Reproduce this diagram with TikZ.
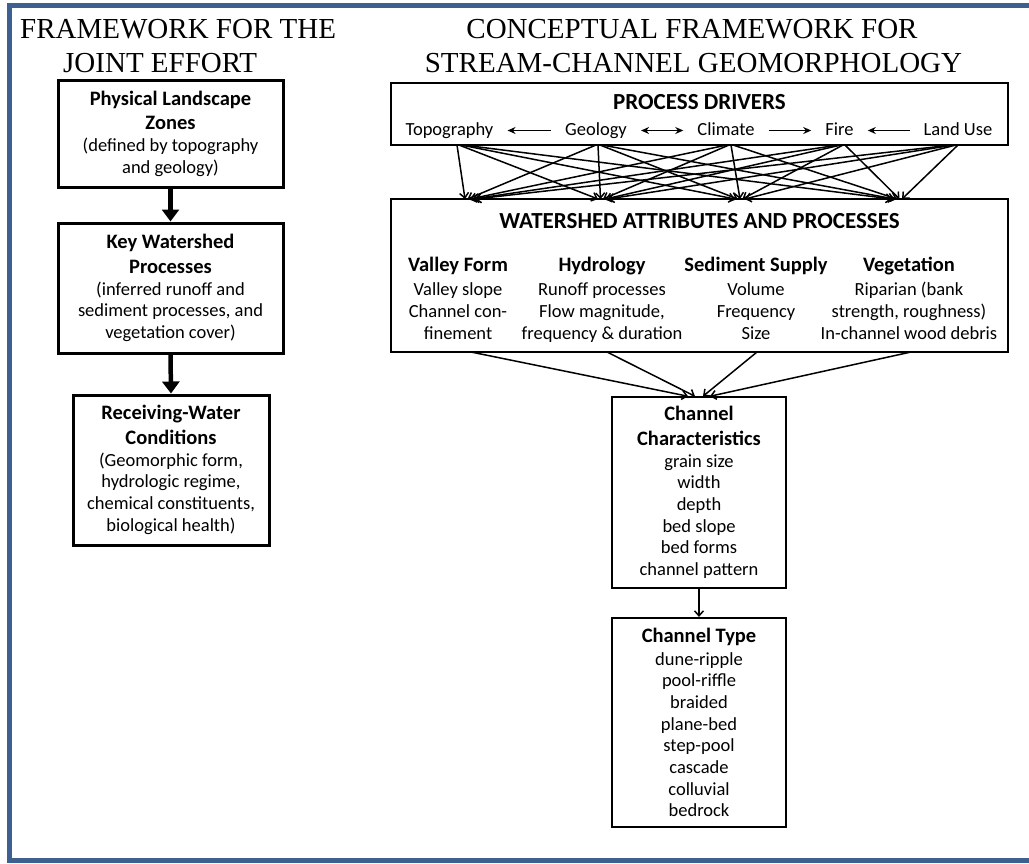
\documentclass[tikz,border=0pt]{standalone}
\usepackage{fontspec}
\setmainfont{Carlito}
\newfontfamily\titlefont{Liberation Serif}
\usetikzlibrary{arrows.meta,calc}
\definecolor{framecol}{RGB}{61,96,145}
\newcommand\bodyfs{\fontsize{18.5}{21.7}\selectfont}
\newcommand\hdfs{\bfseries\fontsize{20.5}{21.7}\selectfont}
\newcommand\bigfs{\bfseries\fontsize{23}{26}\selectfont}
\newcommand\ttlfs{\titlefont\fontsize{29}{34}\selectfont}
\begin{document}
\begin{tikzpicture}[x=1pt,y=-1pt,
  lbox/.style={draw,line width=3pt,align=center,font=\bodyfs,inner sep=0pt},
  cbox/.style={draw,line width=1.5pt,align=center,font=\bodyfs,inner sep=0pt},
  ttl/.style={inner sep=0pt,font=\ttlfs},
  drv/.style={inner sep=0pt,font=\bodyfs,anchor=base,text height=13pt,text depth=4pt},
  col/.style={inner sep=0pt,font=\bodyfs,anchor=base,align=center},
  bigarr/.style={line width=4.5pt,-{Triangle[length=12pt,width=17pt]}},
  thinarr/.style={line width=1.5pt,-{Straight Barb[length=5pt,width=9pt]}},
  rowarr/.style={line width=1.5pt,-{Stealth[length=8pt,width=7pt]}},
]
\useasboundingbox (0,0) rectangle (1029,863);
\draw[framecol,line width=5pt] (9.5,5.5) rectangle (1045,860.5);

% titles
\node[ttl,anchor=base west] (lt1) at (20,38) {FRAMEWORK FOR THE};
\node[ttl,anchor=base west] (lt2) at (63,72) {JOINT EFFORT};
\node[ttl,anchor=base] (rt1) at (692,38) {CONCEPTUAL FRAMEWORK FOR};
\node[ttl,anchor=base] (rt2) at (693.5,72) {STREAM-CHANNEL GEOMORPHOLOGY};

% left column
\node[lbox,minimum width=225pt,minimum height=107pt] (b1) at (170.5,133.5)
  {{\hdfs Physical Landscape}\\[3pt]{\hdfs Zones}\\(defined by topography\\and geology)};
\node[lbox,minimum width=225pt,minimum height=130pt] (b2) at (170.5,288)
  {{\hdfs Key Watershed}\\[3pt]{\hdfs Processes}\\(inferred runoff and\\sediment processes, and\\vegetation cover)};
\node[lbox,minimum width=196pt,minimum height=150pt] (b3) at (171,470)
  {{\hdfs Receiving-Water}\\[3pt]{\hdfs Conditions}\\(Geomorphic form,\\hydrologic regime,\\chemical constituents,\\biological health)};
\draw[bigarr] (b1.south) -- (b2.north);
\draw[bigarr] (b2.south) -- (b3.north);

% process drivers
\node[draw,line width=1.7pt,minimum width=617pt,minimum height=62pt,inner sep=0pt] (drvbox) at (699.5,114) {};
\node[inner sep=0pt,font=\bigfs,anchor=base] (pdt) at (699.5,109) {PROCESS DRIVERS};
\node[drv] (topo) at (449.5,135) {Topography};
\node[drv] (geo) at (596,135) {Geology};
\node[drv] (clim) at (726,135) {Climate};
\node[drv] (fire) at (839.5,135) {Fire};
\node[drv] (land) at (958,135) {Land Use};
\draw[rowarr,shorten >=14pt,shorten <=14pt] (geo.west) -- (topo.east);
\draw[rowarr,{Stealth[length=8pt,width=7pt]}-{Stealth[length=8pt,width=7pt]},shorten >=14pt,shorten <=14pt] (geo.east) -- (clim.west);
\draw[rowarr,shorten >=14pt,shorten <=14pt] (clim.east) -- (fire.west);
\draw[rowarr,shorten >=14pt,shorten <=14pt] (land.west) -- (fire.east);

% watershed box
\node[draw,line width=2pt,minimum width=617pt,minimum height=153pt,inner sep=0pt] (wsbox) at (699.5,275.5) {};
\node[inner sep=0pt,font=\bigfs,anchor=base] (wst) at (699.5,228) {WATERSHED ATTRIBUTES AND PROCESSES};
\node[col] (c1) at (458,271) {\begin{tabular}[t]{@{}c@{}}{\hdfs Valley Form}\\[3pt]Valley slope\\Channel con-\\finement\end{tabular}};
\node[col] (c2) at (602,271) {\begin{tabular}[t]{@{}c@{}}{\hdfs Hydrology}\\[3pt]Runoff processes\\Flow magnitude,\\frequency \& duration\end{tabular}};
\node[col] (c3) at (756,271) {\begin{tabular}[t]{@{}c@{}}{\hdfs Sediment Supply}\\[3pt]Volume\\Frequency\\Size\end{tabular}};
\node[col] (c4) at (909,271) {\begin{tabular}[t]{@{}c@{}}{\hdfs Vegetation}\\[3pt]Riparian (bank\\strength, roughness)\\In-channel wood debris\end{tabular}};

% driver -> watershed arrows
\foreach \sx [count=\i from 0] in {460,599,730,842,955} {\coordinate (s\i) at (\sx,145);}
\foreach \tx [count=\j from 0] in {470,603,740,897} {\coordinate (t\j) at (\tx,199);}
\foreach \i in {0,...,4}{\foreach \j in {0,...,3}{
  \draw[thinarr] ($(s\i)+({2*(\j-1.5)},0)$) -- ($(t\j)+({2.5*(\i-2)},0)$);}}

% channel boxes
\node[cbox,minimum width=174pt,minimum height=191pt] (cc) at (699,492.5)
  {{\hdfs Channel}\\[3pt]{\hdfs Characteristics}\\grain size\\width\\depth\\bed slope\\bed forms\\channel pattern};
\node[cbox,line width=2.2pt,minimum width=174pt,minimum height=209pt] (ct) at (699,722.5)
  {{\hdfs Channel Type}\\[1pt]dune-ripple\\pool-riffle\\braided\\plane-bed\\step-pool\\cascade\\colluvial\\bedrock};

\foreach \wx [count=\k from 0] in {471,607,757,911} {\coordinate (w\k) at (\wx,352);}
\draw[thinarr] (w0) -- ($(cc.north)+(-11,0)$);
\draw[thinarr] (w1) -- ($(cc.north)+(-4,0)$);
\draw[thinarr] (w2) -- ($(cc.north)+(4,0)$);
\draw[thinarr] (w3) -- ($(cc.north)+(11,0)$);
\draw[thinarr] (cc.south) -- (ct.north);
\end{tikzpicture}
\end{document}
